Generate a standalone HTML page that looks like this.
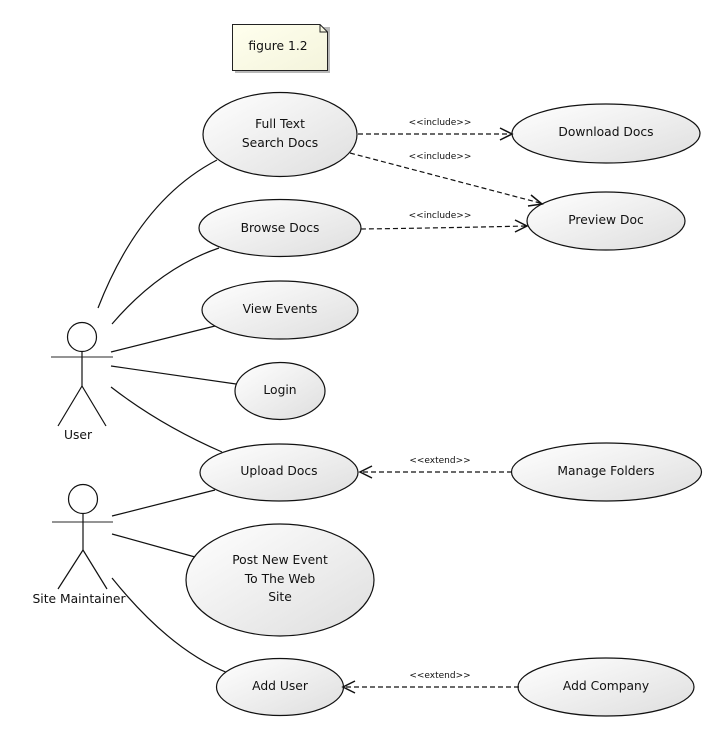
<!DOCTYPE html>
<html><head><meta charset="utf-8"><style>
html,body{margin:0;padding:0;background:#fff;}
svg{display:block;}
text{font-family:"DejaVu Sans","Liberation Sans",sans-serif;fill:#111;}
</style></head><body>
<svg width="726" height="741" viewBox="0 0 726 741" xmlns="http://www.w3.org/2000/svg">
<defs>
<linearGradient id="g" x1="0" y1="0" x2="1" y2="1">
<stop offset="0" stop-color="#ffffff"/><stop offset="1" stop-color="#dedede"/>
</linearGradient>
<linearGradient id="ng" x1="0" y1="0" x2="1" y2="1">
<stop offset="0" stop-color="#ffffee"/><stop offset="1" stop-color="#f4f4dc"/>
</linearGradient>
</defs>

<!-- note -->
<path d="M235 27 H330 V73 H235 Z" fill="#888" opacity="0.6"/>
<path d="M232.5 24.5 H320 L327.5 32 V70.5 H232.5 Z" fill="url(#ng)" stroke="#222" stroke-width="1"/>
<path d="M320 24.5 V32 H327.5" fill="none" stroke="#222" stroke-width="1"/>
<text x="278" y="50" font-size="12.3" text-anchor="middle">figure 1.2</text>

<!-- actor lines -->
<g fill="none" stroke="#111" stroke-width="1.2">
<path d="M98 308 Q140 200 217 160"/>
<path d="M112 324 Q160 268 219 248"/>
<path d="M111 352 L215 326"/>
<path d="M111 366 L236 384"/>
<path d="M111 387 Q160 425 222 452"/>
<path d="M112 516 L215 490"/>
<path d="M112 534 L195 557"/>
<path d="M112 578 Q170 650 228 673"/>
</g>

<!-- actors -->
<g fill="none" stroke="#111" stroke-width="1.2">
<circle cx="82" cy="337" r="14.5" fill="#fff"/>
<line x1="51" y1="357" x2="113" y2="357" stroke="#555"/>
<line x1="82" y1="351.5" x2="82" y2="386"/>
<line x1="82" y1="386" x2="58" y2="426"/>
<line x1="82" y1="386" x2="106" y2="426"/>
<circle cx="83" cy="499" r="14.5" fill="#fff"/>
<line x1="52" y1="522" x2="113" y2="522" stroke="#555"/>
<line x1="83" y1="513.5" x2="83" y2="550"/>
<line x1="83" y1="550" x2="58" y2="589"/>
<line x1="83" y1="550" x2="107" y2="589"/>
</g>
<text x="78" y="439" font-size="12.3" text-anchor="middle">User</text>
<text x="79" y="603" font-size="12.3" text-anchor="middle">Site Maintainer</text>

<!-- ellipses -->
<g stroke="#111" stroke-width="1.2" fill="url(#g)">
<ellipse cx="280" cy="134.5" rx="77" ry="42"/>
<ellipse cx="280" cy="228" rx="81" ry="28.5"/>
<ellipse cx="280" cy="310" rx="78" ry="29"/>
<ellipse cx="280" cy="391" rx="45" ry="28.5"/>
<ellipse cx="279" cy="472.5" rx="79" ry="28.5"/>
<ellipse cx="280" cy="580" rx="94" ry="56"/>
<ellipse cx="280" cy="687" rx="63.5" ry="28.5"/>
<ellipse cx="606" cy="133.5" rx="94" ry="29.5"/>
<ellipse cx="606" cy="221" rx="79" ry="29"/>
<ellipse cx="606.5" cy="472" rx="95" ry="29"/>
<ellipse cx="606" cy="687" rx="88" ry="29"/>
</g>

<g font-size="12.3" text-anchor="middle">
<text x="280" y="128">Full Text</text>
<text x="280" y="147">Search Docs</text>
<text x="280" y="232">Browse Docs</text>
<text x="280" y="313">View Events</text>
<text x="280" y="394">Login</text>
<text x="279" y="475">Upload Docs</text>
<text x="280" y="564">Post New Event</text>
<text x="280" y="583">To The Web</text>
<text x="280" y="601">Site</text>
<text x="280" y="690">Add User</text>
<text x="606" y="136">Download Docs</text>
<text x="606" y="224">Preview Doc</text>
<text x="606" y="475">Manage Folders</text>
<text x="606" y="690">Add Company</text>
</g>

<!-- dashed connectors -->
<g fill="none" stroke="#111" stroke-width="1.2" stroke-dasharray="5,3">
<line x1="358" y1="134" x2="510" y2="134"/>
<line x1="350" y1="153" x2="540" y2="203"/>
<path d="M361 229 Q440 228 526 226"/>
<line x1="512" y1="472" x2="362" y2="472"/>
<line x1="519" y1="687" x2="345" y2="687"/>
</g>
<!-- arrowheads (open) -->
<g fill="none" stroke="#111" stroke-width="1.5" stroke-linejoin="miter">
<path d="M500 128 L512 134 L500 140"/>
<path d="M531 195 L542 204 L528 206"/>
<path d="M515 220 L527 226 L515 232"/>
<path d="M372 466 L360 472 L372 478"/>
<path d="M355 681 L343 687 L355 693"/>
</g>

<g font-size="9" text-anchor="middle">
<text x="440" y="125">&lt;&lt;include&gt;&gt;</text>
<text x="440" y="159">&lt;&lt;include&gt;&gt;</text>
<text x="440" y="218">&lt;&lt;include&gt;&gt;</text>
<text x="440" y="463">&lt;&lt;extend&gt;&gt;</text>
<text x="440" y="678">&lt;&lt;extend&gt;&gt;</text>
</g>
</svg>
</body></html>
